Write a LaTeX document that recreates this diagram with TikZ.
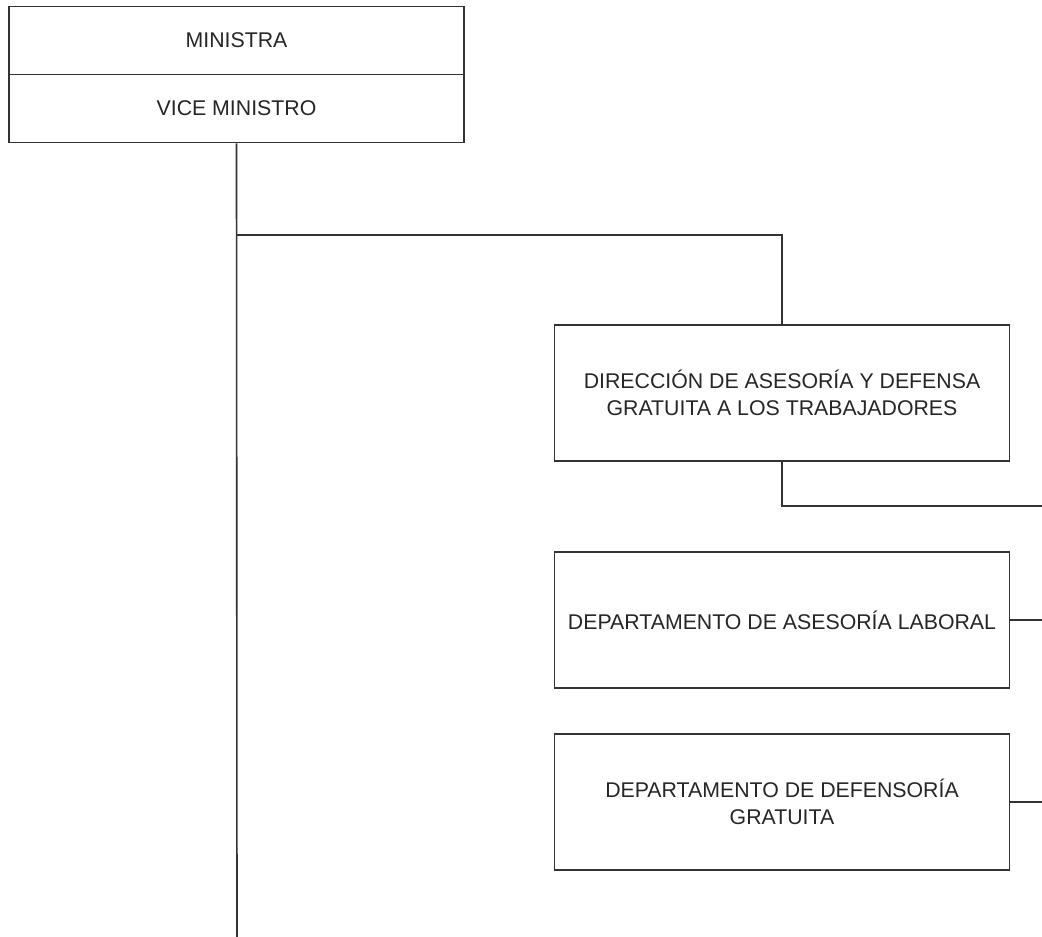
\documentclass[tikz,border=0pt]{standalone}
\usepackage{fontspec}
\setmainfont{Liberation Sans}
\begin{document}
\begin{tikzpicture}[x=1pt,y=-1pt,
  line/.style={draw=black!80, line width=1.6pt},
  unit/.style={line, fill=white, rectangle, minimum width=455pt, minimum height=136pt,
    inner sep=0pt, align=center, text=black!85,
    font=\fontsize{21.3}{27}\selectfont},
  head/.style={unit, minimum height=68pt}]
\useasboundingbox (0,0) rectangle (1042,937);

% top block: minister and vice minister
\node[head] (min) at (236.5,40.5) {MINISTRA};
\node[head] (vice) at (236.5,108.5) {VICE MINISTRO};

% dependent units
\node[unit] (dir) at (782,393) {DIRECCIÓN DE ASESORÍA Y DEFENSA\\GRATUITA A LOS TRABAJADORES};
\node[unit] (lab) at (782,620) {DEPARTAMENTO DE ASESORÍA LABORAL};
\node[unit] (def) at (782,802) {DEPARTAMENTO DE DEFENSORÍA\\GRATUITA};

% trunk and branch points
\coordinate (trunkend) at (237,937);
\coordinate (j1) at (237,235);
\coordinate (e1) at (1042,506);
\coordinate (e2) at (1042,620);
\coordinate (e3) at (1042,802);

\draw[line] (vice.south) -- (trunkend);
\draw[line] (j1) -| (dir.north);
\draw[line] (dir.south) |- (e1);
\draw[line] (lab.east) -- (e2);
\draw[line] (def.east) -- (e3);
\end{tikzpicture}
\end{document}
